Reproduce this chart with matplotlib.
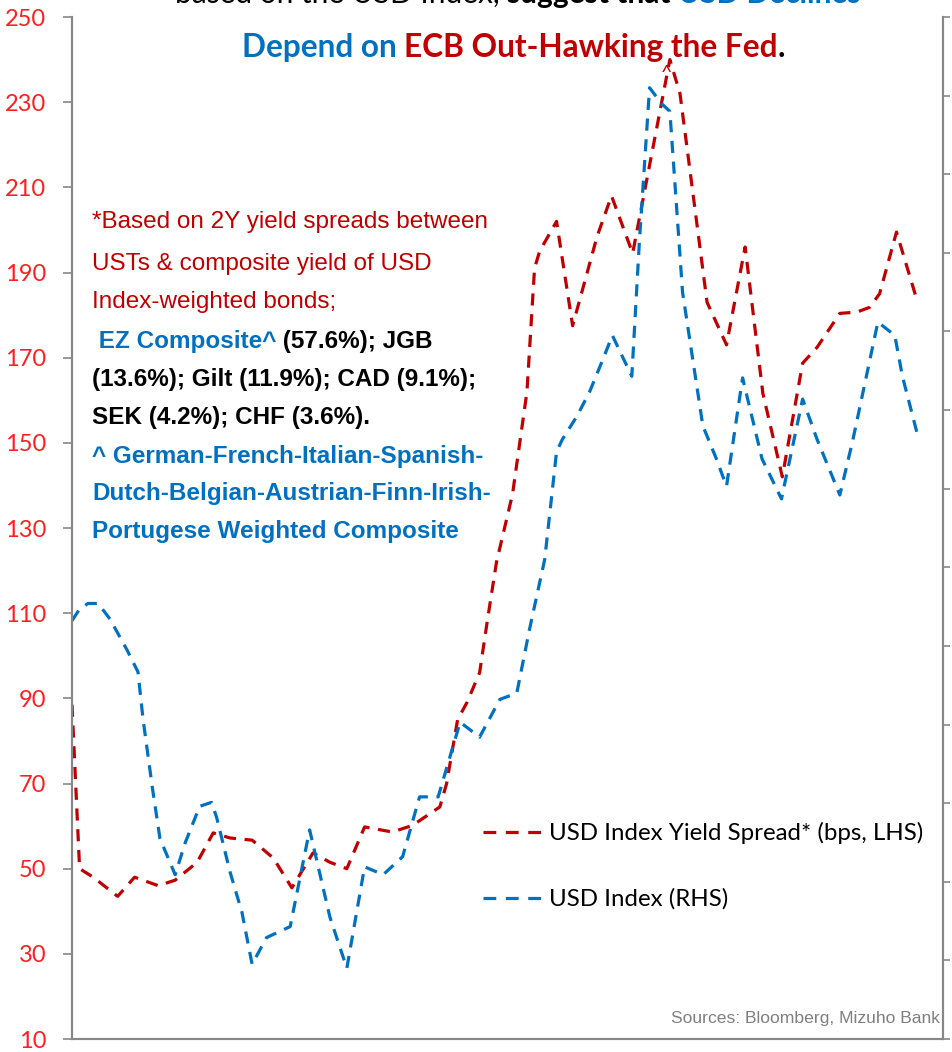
import matplotlib
matplotlib.use('Agg')
import matplotlib.pyplot as plt
from matplotlib.lines import Line2D

# --- data (time index 0..100 across the chart) ---
t_spread = [0, 0.9, 2.5, 5.4, 7.4, 10.2, 12.2, 14.8, 16.7, 18.7, 21.3, 23.8, 26.0, 28.5,
            30.5, 32.5, 34.6, 37.9, 40.3, 43.5, 44.3, 45.6, 46.7, 48.2, 49.1, 50.2, 52.1,
            53.8, 54.7, 55.3, 57.3, 59.2, 62.1, 63.8, 66.3, 70.7, 71.9, 75.1, 77.4, 79.6,
            81.7, 84.0, 86.4, 88.1, 90.8, 92.8, 94.3, 95.5, 97.5, 100]
spread_bps = [88.5, 50, 48, 43.5, 48, 46, 47.3, 51.5, 58.4, 57.2, 56.7, 52.5, 45.5, 53.7,
              51.5, 50, 59.8, 58.6, 60.2, 64.5, 70, 85, 89, 96, 108, 122, 138,
              162, 191, 195, 202, 177.5, 198.5, 208, 194.5, 240, 232, 183, 173, 196,
              161.6, 142, 168.7, 172.4, 180.4, 180.7, 181.8, 185, 199.5, 183]

t_index = [0, 0.9, 1.9, 3.1, 4.5, 6.5, 7.8, 8.4, 9.5, 10.4, 12.2, 13.4, 15.1, 16.5, 17.1,
           18.7, 20.1, 21.3, 23.0, 25.8, 28.1, 30.5, 32.5, 34.6, 36.8, 39.1, 41.1, 43.3,
           45.9, 48.2, 50.6, 52.6, 54.1, 55.9, 57.3, 58.0, 59.7, 61.2, 62.8, 63.9, 66.2,
           67.1, 68.3, 69.7, 70.7, 72.2, 74.6, 76.2, 77.4, 79.3, 81.6, 83.9, 86.4, 88.1,
           90.8, 92.3, 95.3, 97.3, 98.2, 100]
usd_index = [93.32, 93.47, 93.54, 93.54, 93.34, 92.95, 92.67, 92.07, 91.20, 90.55, 90.09,
             90.50, 90.96, 91.01, 90.82, 90.12, 89.61, 88.95, 89.29, 89.43, 90.66, 89.55,
             88.90, 90.19, 90.09, 90.32, 91.08, 91.08, 92.03, 91.84, 92.32, 92.40, 93.21,
             94.10, 95.47, 95.63, 95.92, 96.23, 96.65, 96.95, 96.43, 98.15, 100.10, 99.90,
             99.80, 97.50, 95.80, 95.38, 95.03, 96.41, 95.38, 94.87, 96.14, 95.63, 94.92,
             95.60, 97.12, 96.95, 96.43, 95.68]

lhs_ticks = list(range(10, 251, 20))
rhs_ticks = list(range(88, 102))

RED = '#C00000'
BLUE = '#0070C0'
GRAY = '#878787'
NARROW = ['Liberation Sans', 'DejaVu Sans']
CAL = ['Lato', 'DejaVu Sans']

fig = plt.figure(figsize=(9.52, 10.52), dpi=100)
ax = fig.add_axes([72/952, 13/1052, 871/952, 1022/1052])
ax2 = ax.twinx()

dash = (3.8, 2.7)
ax.plot(t_spread, spread_bps, color=RED, lw=2.3, dashes=dash)
ax2.plot(t_index, usd_index, color=BLUE, lw=2.3, dashes=dash)

ax.set_xlim(0, 103)
ax.set_ylim(10, 250)
ax2.set_ylim(88, 101)
ax.set_xticks([])
ax.set_yticks(lhs_ticks)
ax.set_yticklabels([str(v) for v in lhs_ticks], color='#FF1F1F', fontsize=17, family=CAL)
ax2.set_yticks(rhs_ticks)
ax2.set_yticklabels([])
ax.tick_params(axis='y', length=6.5, width=1.2, color=GRAY, pad=12)
ax2.tick_params(axis='y', length=5, width=1.2, color=GRAY)

for a in (ax, ax2):
    a.spines['top'].set_visible(False)
    for s in ('left', 'right', 'bottom'):
        a.spines[s].set_color(GRAY)
        a.spines[s].set_linewidth(1.5)

# legend
handles = [Line2D([], [], color=RED, lw=2.3, dashes=(4.0, 3.0)),
           Line2D([], [], color=BLUE, lw=2.3, dashes=(4.0, 3.0))]
ax.legend(handles, ['USD Index Yield Spread* (bps, LHS)', 'USD Index (RHS)'],
          loc='upper left', bbox_to_anchor=(483/952, 1 - 822/1052),
          bbox_transform=fig.transFigure, frameon=False, borderpad=0, borderaxespad=0,
          handlelength=2.45, handletextpad=0.3, labelspacing=1.85,
          prop={'family': CAL, 'size': 17.3})

# note text
def chain(parts, x, y, size, family):
    prev = None
    for txt, col, wt in parts:
        if prev is None:
            prev = fig.text(x, y, txt, color=col, weight=wt, fontsize=size,
                            family=family, ha='left', va='bottom')
        else:
            prev = ax.annotate(txt, xy=(1, 0), xycoords=prev, color=col, weight=wt,
                               fontsize=size, family=family, ha='left', va='bottom')
    return prev

def ypos(py):
    return 1 - py / 1052

note = [
    (92, 233, [('*Based on 2Y yield spreads between', RED, 'normal')]),
    (92, 275, [('USTs & composite yield of USD', RED, 'normal')]),
    (92, 313, [('Index-weighted bonds;', RED, 'normal')]),
    (92, 353, [(' EZ Composite^', BLUE, 'bold'), (' (57.6%); JGB', 'black', 'bold')]),
    (92, 391, [('(13.6%); Gilt (11.9%); CAD (9.1%);', 'black', 'bold')]),
    (92, 429, [('SEK (4.2%); CHF (3.6%).', 'black', 'bold')]),
    (92, 468, [('^ German-French-Italian-Spanish-', BLUE, 'bold')]),
    (92, 505, [('Dutch-Belgian-Austrian-Finn-Irish-', BLUE, 'bold')]),
    (92, 543, [('Portugese Weighted Composite', BLUE, 'bold')]),
]
for x, y, parts in note:
    chain(parts, x / 952, ypos(y), 17.5, NARROW)

# title (top line cut off by the figure edge)
chain([('based on the USD Index, ', 'black', 'normal'), ('suggest that ', 'black', 'bold'),
       ('USD Declines', BLUE, 'bold')], 175 / 952, ypos(8), 21.5, CAL)
chain([('Depend on ', BLUE, 'bold'), ('ECB Out-Hawking the Fed', RED, 'bold'),
       ('.', 'black', 'bold')], 242 / 952, ypos(62), 22.8, CAL)
fig.text(666 / 952, ypos(82), '^', color=RED, fontsize=14, family=CAL, ha='center', va='bottom')

fig.text(940 / 952, ypos(1018), 'Sources: Bloomberg, Mizuho Bank', color='#7F7F7F',
         fontsize=12.6, family=NARROW, ha='right', va='center')

fig.savefig('out.png', dpi=100)
